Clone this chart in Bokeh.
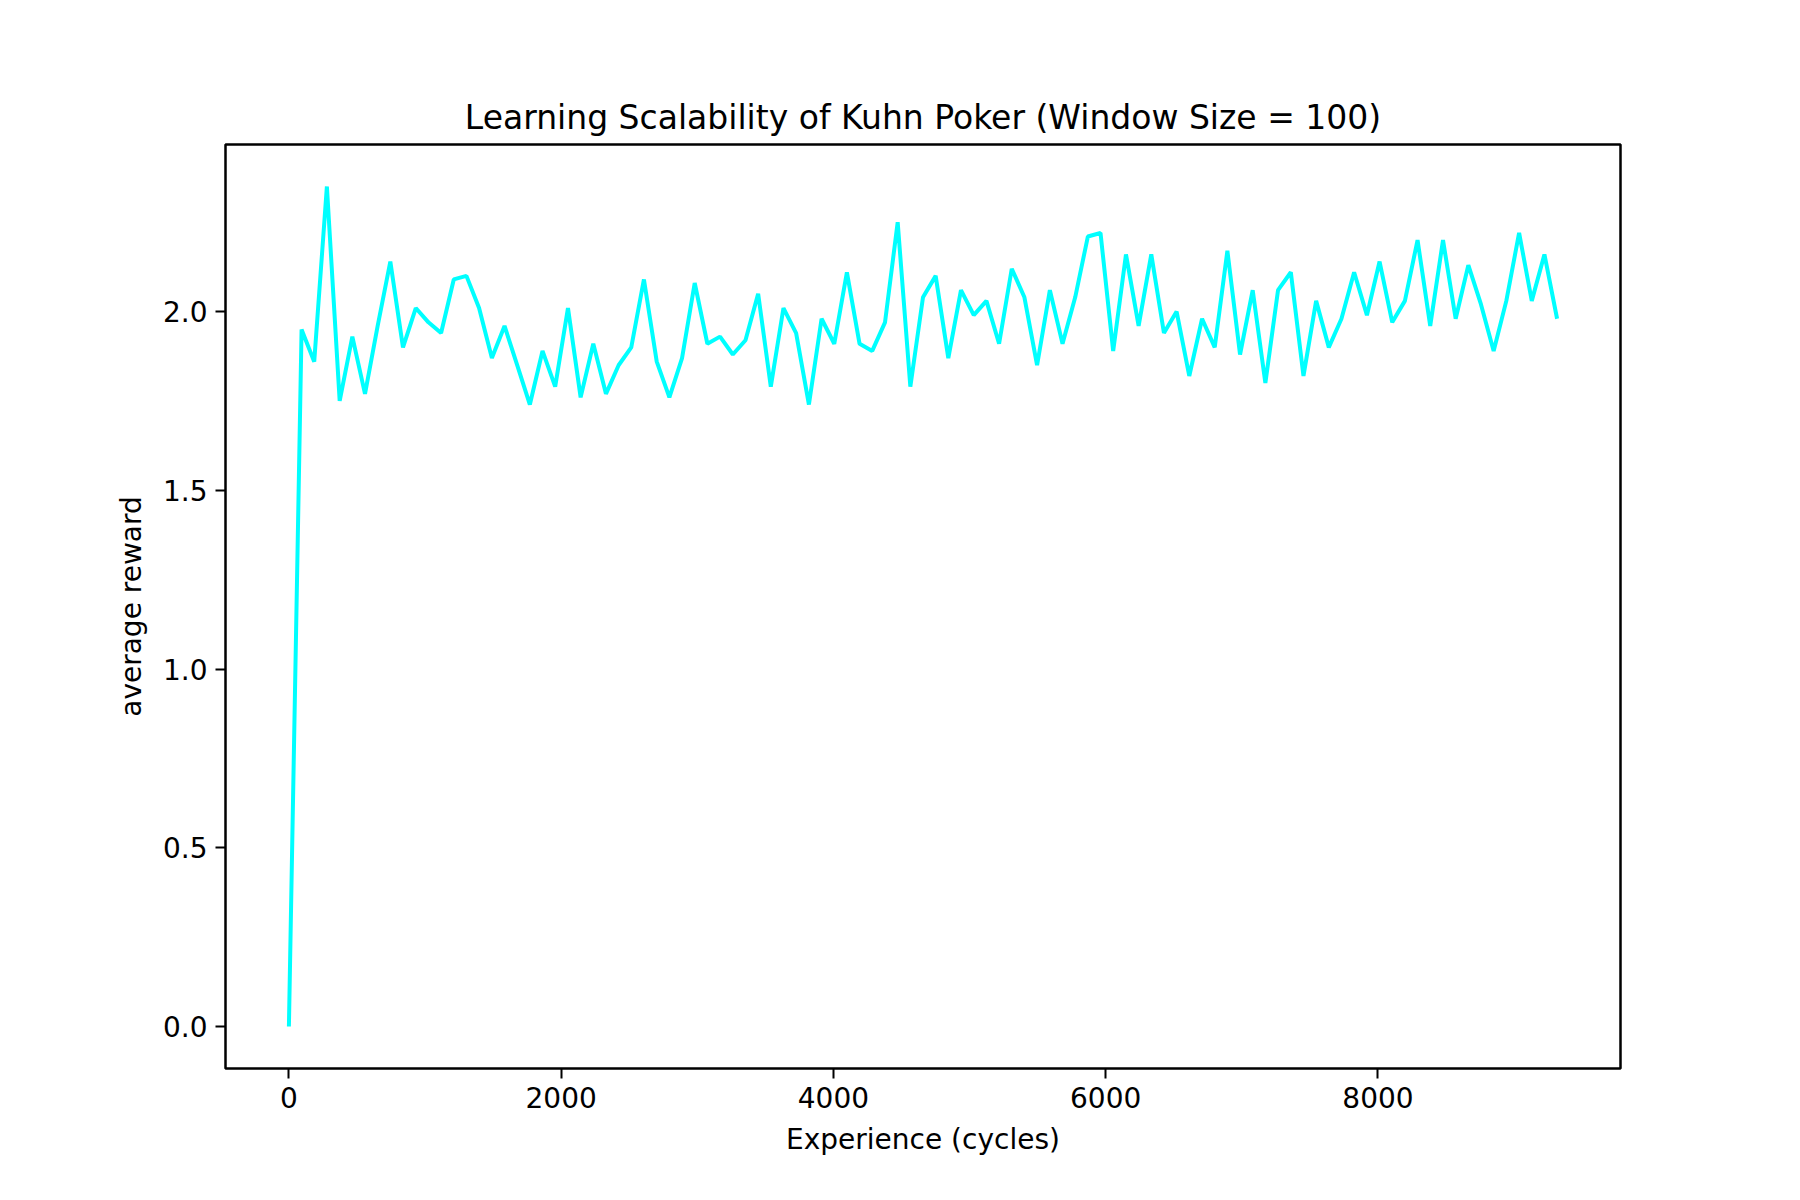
from bokeh.plotting import figure
from bokeh.models import Range1d, FixedTicker
from bokeh.embed import file_html
from bokeh.resources import INLINE

# experience index (sample points every ~93 cycles)
cycles = [round(i * 93.16) for i in range(101)]
reward = [0.00, 1.95, 1.86, 2.35, 1.75, 1.93, 1.77, 1.96, 2.14, 1.90,
          2.01, 1.97, 1.94, 2.09, 2.10, 2.01, 1.87, 1.96, 1.85, 1.74,
          1.89, 1.79, 2.01, 1.76, 1.91, 1.77, 1.85, 1.90, 2.09, 1.86,
          1.76, 1.87, 2.08, 1.91, 1.93, 1.88, 1.92, 2.05, 1.79, 2.01,
          1.94, 1.74, 1.98, 1.91, 2.11, 1.91, 1.89, 1.97, 2.25, 1.79,
          2.04, 2.10, 1.87, 2.06, 1.99, 2.03, 1.91, 2.12, 2.04, 1.85,
          2.06, 1.91, 2.04, 2.21, 2.22, 1.89, 2.16, 1.96, 2.16, 1.94,
          2.00, 1.82, 1.98, 1.90, 2.17, 1.88, 2.06, 1.80, 2.06, 2.11,
          1.82, 2.03, 1.90, 1.98, 2.11, 1.99, 2.14, 1.97, 2.03, 2.20,
          1.96, 2.20, 1.98, 2.13, 2.02, 1.89, 2.03, 2.22, 2.03, 2.16,
          1.98]
x_ticks = [0, 2000, 4000, 6000, 8000]
y_ticks = [0.0, 0.5, 1.0, 1.5, 2.0]

xmax = max(cycles); ymax = max(reward); ymin = min(reward)
p = figure(width=1784, height=1184, output_backend="svg", toolbar_location=None,
           title="Learning Scalability of Kuhn Poker (Window Size = 100)",
           x_range=Range1d(-0.05 * xmax, 1.05 * xmax),
           y_range=Range1d(ymin - 0.05 * (ymax - ymin), ymax + 0.05 * (ymax - ymin)),
           min_border_left=225, min_border_right=164, min_border_top=144, min_border_bottom=116)
p.line(cycles, reward, line_color="#00ffff", line_width=4)

p.title.align = "center"
p.title.text_font = "DejaVu Sans"
p.title.text_font_size = "33px"
p.title.text_font_style = "normal"
p.title.text_color = "black"
p.title.offset = 0
p.title.standoff = 16

p.grid.visible = False
p.outline_line_color = "black"
p.outline_line_width = 2.5
p.outline_line_alpha = 1

for ax, lab, t in ((p.xaxis, "Experience (cycles)", x_ticks), (p.yaxis, "average reward", y_ticks)):
    ax.ticker = FixedTicker(ticks=t)
    ax.axis_label = lab
    ax.axis_label_text_font = "DejaVu Sans"
    ax.axis_label_text_font_size = "28px"
    ax.axis_label_text_font_style = "normal"
    ax.axis_label_text_color = "black"
    ax.major_label_text_font = "DejaVu Sans"
    ax.major_label_text_font_size = "28px"
    ax.major_label_text_color = "black"
    ax.major_tick_out = 10
    ax.major_tick_in = 0
    ax.minor_tick_out = 0
    ax.minor_tick_in = 0
    ax.major_tick_line_width = 2
    ax.major_tick_line_color = "black"
    ax.axis_line_color = None
    ax.major_label_standoff = 8
    ax.axis_label_standoff = 12
p.yaxis.major_label_overrides = {v: f"{v:.1f}" for v in y_ticks}
p.yaxis.major_label_orientation = "horizontal"

open("out.html", "w").write(file_html(p, INLINE))
